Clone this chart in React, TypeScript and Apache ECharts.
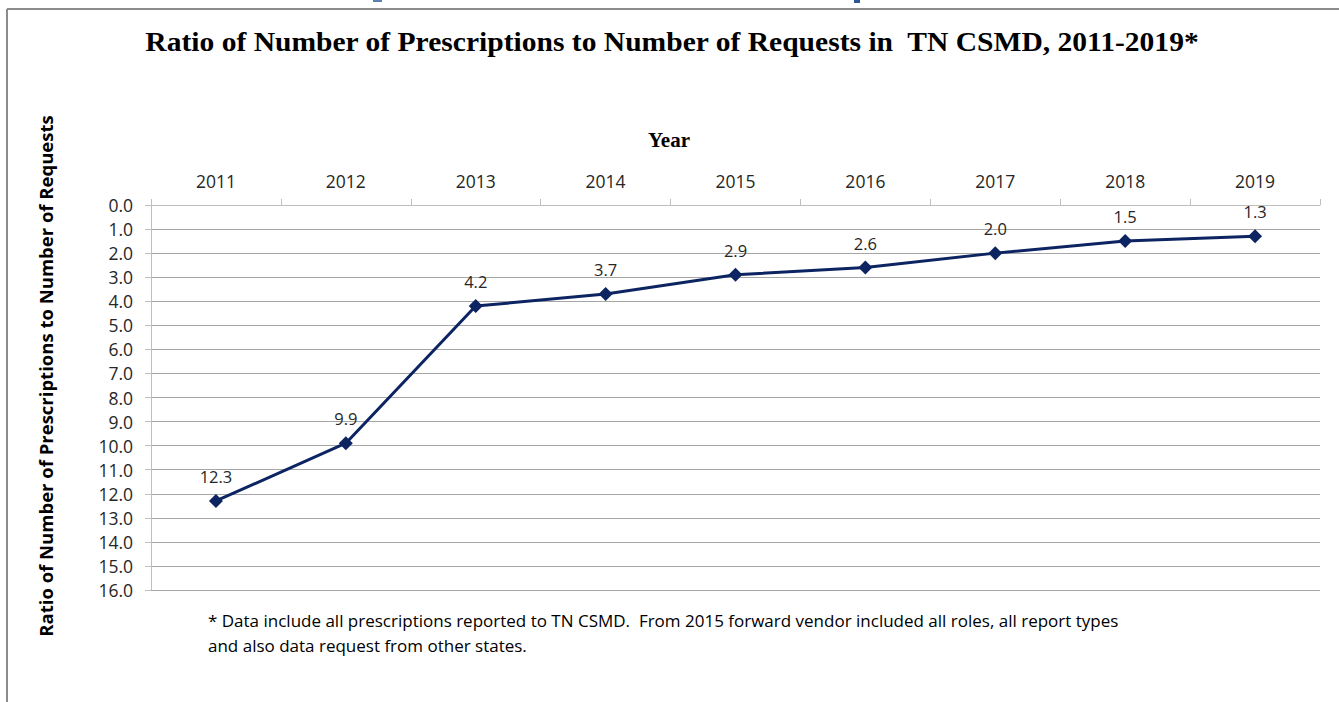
import React, { useEffect, useRef } from "react";
import * as echarts from "echarts";

const years = ["2011", "2012", "2013", "2014", "2015", "2016", "2017", "2018", "2019"];
const ratios = [12.3, 9.9, 4.2, 3.7, 2.9, 2.6, 2.0, 1.5, 1.3];
const titleText = "Ratio of Number of Prescriptions to Number of Requests in  TN CSMD, 2011-2019*";
const yAxisTitle = "Ratio of Number of Prescriptions to Number of Requests";
const xAxisTitle = "Year";
const footnoteLines = [
  "* Data include all prescriptions reported to TN CSMD.  From 2015 forward vendor included all roles, all report types",
  "and also data request from other states.",
];

const sans = "'Open Sans', 'Noto Sans', sans-serif";
const serif = "'Liberation Serif', 'DejaVu Serif', serif";

export default function App() {
  const ref = useRef<HTMLDivElement>(null);
  useEffect(() => {
    if (!ref.current) return;
    const chart = echarts.init(ref.current, null, { renderer: "svg" });
    chart.setOption({
      animation: false,
      backgroundColor: "#ffffff",
      grid: { left: 151, right: 19, top: 205, bottom: 112, containLabel: false },
      xAxis: {
        type: "category",
        data: years,
        position: "top",
        boundaryGap: true,
        axisLine: { show: true, lineStyle: { color: "#bfbfbf", width: 1 } },
        axisTick: { show: true, length: 6, lineStyle: { color: "#bfbfbf" } },
        axisLabel: { fontFamily: sans, fontSize: 17.5, color: "#262626", margin: 15 },
        splitLine: { show: false },
      },
      yAxis: {
        type: "value",
        inverse: true,
        min: 0,
        max: 16,
        interval: 1,
        axisLine: { show: true, lineStyle: { color: "#bfbfbf", width: 1 } },
        axisTick: { show: true, length: 6, lineStyle: { color: "#bfbfbf" } },
        axisLabel: {
          fontFamily: sans,
          fontSize: 17.5,
          color: "#262626",
          margin: 18,
          formatter: (v: number) => v.toFixed(1),
        },
        splitLine: { show: true, lineStyle: { color: "#a6a6a6", width: 1 } },
      },
      series: [
        {
          type: "line",
          data: ratios,
          symbol: "diamond",
          symbolSize: 14,
          lineStyle: { color: "#0c2461", width: 3 },
          itemStyle: { color: "#0c2461" },
          label: {
            show: true,
            position: "top",
            distance: 9,
            fontFamily: sans,
            fontSize: 16.5,
            color: "#262626",
            formatter: (p: any) => Number(p.value).toFixed(1),
          },
        },
      ],
      graphic: [
        { type: "line", shape: { x1: 7, y1: 9, x2: 1339, y2: 9 }, style: { stroke: "#8c8c8c", lineWidth: 2 } },
        { type: "line", shape: { x1: 7, y1: 9, x2: 7, y2: 702 }, style: { stroke: "#8c8c8c", lineWidth: 2 } },
        { type: "rect", shape: { x: 373, y: 0, width: 9, height: 2 }, style: { fill: "#5b7fb0" } },
        { type: "rect", shape: { x: 854, y: 0, width: 6, height: 3 }, style: { fill: "#2f5597" } },
        {
          type: "text",
          x: 672,
          y: 42,
          scaleX: 1.095,
          style: {
            text: titleText,
            fontFamily: serif,
            fontWeight: "bold",
            fontSize: 27,
            fill: "#000",
            textAlign: "center",
            textVerticalAlign: "middle",
          },
        },
        {
          type: "text",
          x: 669,
          y: 140,
          style: {
            text: xAxisTitle,
            fontFamily: serif,
            fontWeight: "bold",
            fontSize: 21,
            fill: "#000",
            textAlign: "center",
            textVerticalAlign: "middle",
          },
        },
        {
          type: "text",
          x: 45,
          y: 376,
          rotation: Math.PI / 2,
          style: {
            text: yAxisTitle,
            fontFamily: sans,
            fontWeight: "bold",
            fontSize: 18.5,
            fill: "#000",
            textAlign: "center",
            textVerticalAlign: "middle",
          },
        },
        {
          type: "text",
          left: 208,
          top: 608,
          style: {
            text: footnoteLines.join("\n"),
            fontFamily: sans,
            fontSize: 17,
            lineHeight: 25,
            fill: "#000",
          },
        },
      ],
    });
    return () => chart.dispose();
  }, []);
  return (
    <div
      ref={ref}
      style={{ position: "absolute", left: 0, top: 0, width: 1339, height: 702 }}
    />
  );
}
